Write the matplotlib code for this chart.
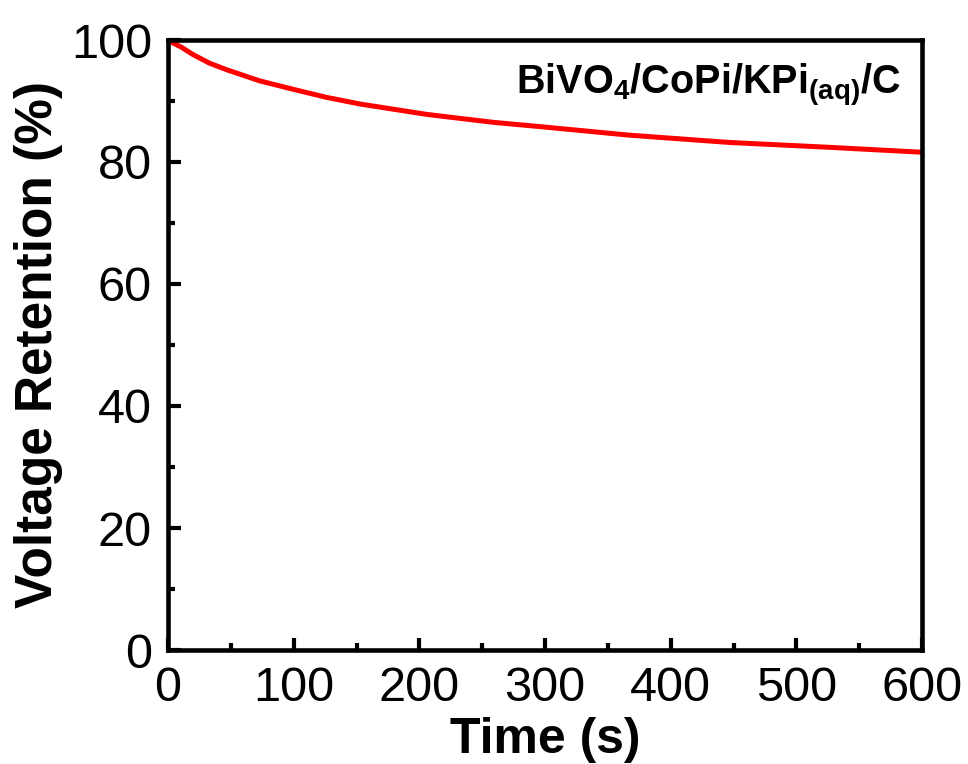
import matplotlib
matplotlib.use("Agg")
from matplotlib import pyplot as plt
from matplotlib.ticker import MultipleLocator

# Values
time_s = [0, 2, 10, 20, 33, 47, 73, 100, 126, 153, 206, 259, 296, 367, 447, 527, 600]
retention = [100.0, 99.7, 98.9, 97.6, 96.2, 95.1, 93.3, 91.9, 90.6, 89.5, 87.8, 86.5,
             85.8, 84.4, 83.2, 82.4, 81.6]

label_text = r"BiVO$_\mathbf{4}$/CoPi/KPi$_\mathbf{(aq)}$/C"

plt.rcParams['font.family'] = ['Liberation Sans', 'DejaVu Sans']
plt.rcParams['mathtext.fontset'] = 'custom'
plt.rcParams['mathtext.rm'] = 'Liberation Sans'
plt.rcParams['mathtext.bf'] = 'Liberation Sans:bold'
plt.rcParams['mathtext.default'] = 'bf'

fig = plt.figure(figsize=(9.68, 7.64), dpi=100)
ax = fig.add_axes([168 / 968, 1 - 650 / 764, (922 - 168) / 968, (650 - 40) / 764])

ax.plot(time_s, retention, color="#ff0000", linewidth=3.6,
        solid_capstyle="round", solid_joinstyle="round")

ax.set_xlim(0, 600)
ax.set_ylim(0, 100)
ax.xaxis.set_major_locator(MultipleLocator(100))
ax.xaxis.set_minor_locator(MultipleLocator(50))
ax.yaxis.set_major_locator(MultipleLocator(20))
ax.yaxis.set_minor_locator(MultipleLocator(10))

ax.tick_params(which="major", direction="in", length=9, width=3, labelsize=35, pad=11.5)
ax.tick_params(which="minor", direction="in", length=5, width=3)
for s in ax.spines.values():
    s.set_linewidth(3.3)

ax.set_xlabel("Time (s)", fontsize=36, fontweight="bold", labelpad=4)
ax.set_ylabel("Voltage Retention (%)", fontsize=37, fontweight="bold", labelpad=6)

ax.text(0.972, 0.91, label_text, transform=ax.transAxes, ha="right", va="baseline",
        fontsize=28.5, fontweight="bold")

fig.savefig("out.png", dpi=100)
